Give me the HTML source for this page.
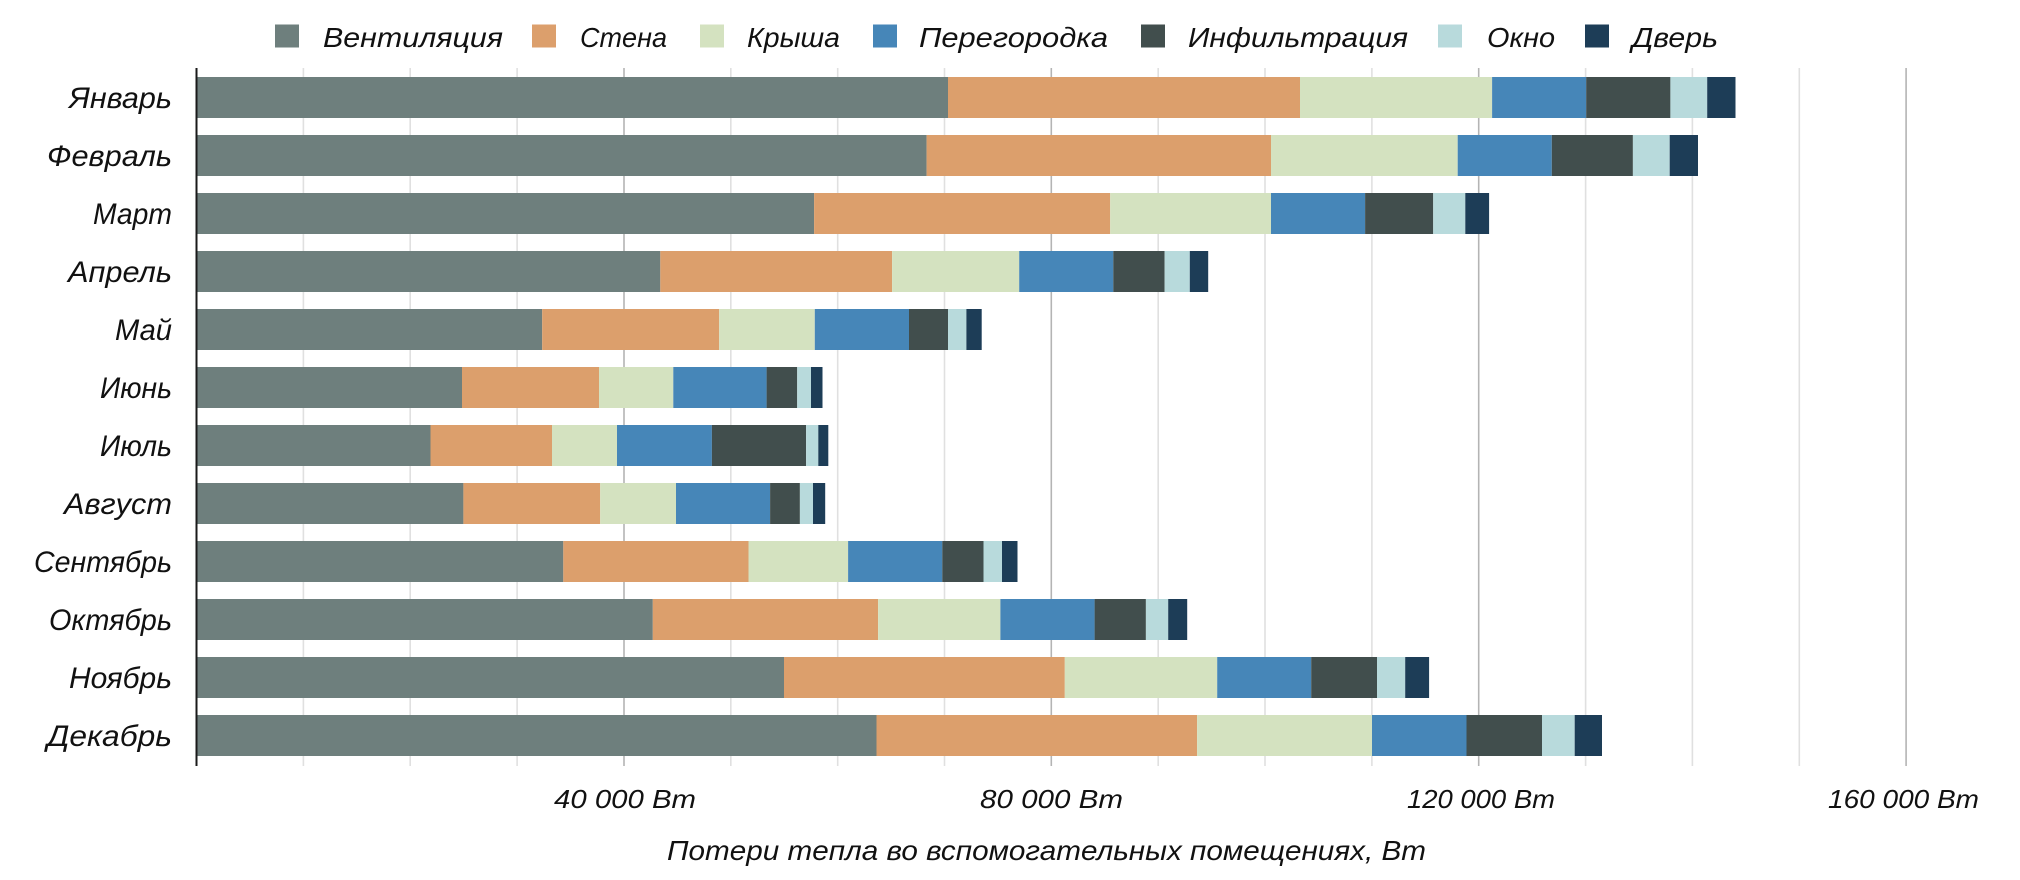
<!DOCTYPE html>
<html>
<head>
<meta charset="utf-8">
<style>
html,body{margin:0;padding:0;background:#fff;}
svg{display:block;}
text{font-family:"Liberation Sans","DejaVu Sans",sans-serif;font-style:italic;fill:#111;}
</style>
</head>
<body>
<svg width="2020" height="880" viewBox="0 0 2020 880" xmlns="http://www.w3.org/2000/svg">
<rect width="2020" height="880" fill="#fff"/>

<!-- gridlines -->
<g stroke-width="1.6">
<line x1="303.4" y1="68" x2="303.4" y2="766" stroke="#e0e0e0"/>
<line x1="410.2" y1="68" x2="410.2" y2="766" stroke="#e0e0e0"/>
<line x1="517.1" y1="68" x2="517.1" y2="766" stroke="#e0e0e0"/>
<line x1="624.0" y1="68" x2="624.0" y2="766" stroke="#b4b4b4"/>
<line x1="730.8" y1="68" x2="730.8" y2="766" stroke="#e0e0e0"/>
<line x1="837.7" y1="68" x2="837.7" y2="766" stroke="#e0e0e0"/>
<line x1="944.5" y1="68" x2="944.5" y2="766" stroke="#e0e0e0"/>
<line x1="1051.3" y1="68" x2="1051.3" y2="766" stroke="#b4b4b4"/>
<line x1="1158.2" y1="68" x2="1158.2" y2="766" stroke="#e0e0e0"/>
<line x1="1265.0" y1="68" x2="1265.0" y2="766" stroke="#e0e0e0"/>
<line x1="1371.9" y1="68" x2="1371.9" y2="766" stroke="#e0e0e0"/>
<line x1="1478.7" y1="68" x2="1478.7" y2="766" stroke="#b4b4b4"/>
<line x1="1585.6" y1="68" x2="1585.6" y2="766" stroke="#e0e0e0"/>
<line x1="1692.4" y1="68" x2="1692.4" y2="766" stroke="#e0e0e0"/>
<line x1="1799.3" y1="68" x2="1799.3" y2="766" stroke="#e0e0e0"/>
<line x1="1906.1" y1="68" x2="1906.1" y2="766" stroke="#b4b4b4"/>
</g>

<!-- bars -->
<g>
<!-- Январь -->
<rect x="196.5" y="77" width="751.5" height="41" fill="#6e7f7d"/>
<rect x="948" y="77" width="352" height="41" fill="#dc9f6c"/>
<rect x="1300" y="77" width="192.1" height="41" fill="#d4e2c0"/>
<rect x="1492.1" y="77" width="94.1" height="41" fill="#4686b8"/>
<rect x="1586.2" y="77" width="84.2" height="41" fill="#414e4d"/>
<rect x="1670.4" y="77" width="36.8" height="41" fill="#b8dadc"/>
<rect x="1707.2" y="77" width="28.3" height="41" fill="#1d3d57"/>
<!-- Февраль -->
<rect x="196.5" y="135" width="730.1" height="41" fill="#6e7f7d"/>
<rect x="926.6" y="135" width="344.4" height="41" fill="#dc9f6c"/>
<rect x="1271" y="135" width="186.7" height="41" fill="#d4e2c0"/>
<rect x="1457.7" y="135" width="94.1" height="41" fill="#4686b8"/>
<rect x="1551.8" y="135" width="81.1" height="41" fill="#414e4d"/>
<rect x="1632.9" y="135" width="36.8" height="41" fill="#b8dadc"/>
<rect x="1669.7" y="135" width="28.3" height="41" fill="#1d3d57"/>
<!-- Март -->
<rect x="196.5" y="193" width="617.6" height="41" fill="#6e7f7d"/>
<rect x="814.1" y="193" width="296.1" height="41" fill="#dc9f6c"/>
<rect x="1110.2" y="193" width="160.8" height="41" fill="#d4e2c0"/>
<rect x="1271" y="193" width="94.1" height="41" fill="#4686b8"/>
<rect x="1365.1" y="193" width="68.1" height="41" fill="#414e4d"/>
<rect x="1433.2" y="193" width="32.1" height="41" fill="#b8dadc"/>
<rect x="1465.3" y="193" width="23.8" height="41" fill="#1d3d57"/>
<!-- Апрель -->
<rect x="196.5" y="251" width="463.8" height="41" fill="#6e7f7d"/>
<rect x="660.3" y="251" width="231.8" height="41" fill="#dc9f6c"/>
<rect x="892.1" y="251" width="127.1" height="41" fill="#d4e2c0"/>
<rect x="1019.2" y="251" width="94.1" height="41" fill="#4686b8"/>
<rect x="1113.3" y="251" width="51.3" height="41" fill="#414e4d"/>
<rect x="1164.6" y="251" width="25.2" height="41" fill="#b8dadc"/>
<rect x="1189.8" y="251" width="18.4" height="41" fill="#1d3d57"/>
<!-- Май -->
<rect x="196.5" y="309" width="345.7" height="41" fill="#6e7f7d"/>
<rect x="542.2" y="309" width="177" height="41" fill="#dc9f6c"/>
<rect x="719.2" y="309" width="95.6" height="41" fill="#d4e2c0"/>
<rect x="814.8" y="309" width="94.2" height="41" fill="#4686b8"/>
<rect x="909" y="309" width="39" height="41" fill="#414e4d"/>
<rect x="948" y="309" width="18.4" height="41" fill="#b8dadc"/>
<rect x="966.4" y="309" width="15.3" height="41" fill="#1d3d57"/>
<!-- Июнь -->
<rect x="196.5" y="367" width="265.5" height="41" fill="#6e7f7d"/>
<rect x="462" y="367" width="137" height="41" fill="#dc9f6c"/>
<rect x="599" y="367" width="74.3" height="41" fill="#d4e2c0"/>
<rect x="673.3" y="367" width="93.3" height="41" fill="#4686b8"/>
<rect x="766.6" y="367" width="30.6" height="41" fill="#414e4d"/>
<rect x="797.2" y="367" width="13.8" height="41" fill="#b8dadc"/>
<rect x="811" y="367" width="11.5" height="41" fill="#1d3d57"/>
<!-- Июль -->
<rect x="196.5" y="425" width="234" height="41" fill="#6e7f7d"/>
<rect x="430.5" y="425" width="121.5" height="41" fill="#dc9f6c"/>
<rect x="552" y="425" width="65" height="41" fill="#d4e2c0"/>
<rect x="617" y="425" width="94.9" height="41" fill="#4686b8"/>
<rect x="711.9" y="425" width="94.2" height="41" fill="#414e4d"/>
<rect x="806.1" y="425" width="12.2" height="41" fill="#b8dadc"/>
<rect x="818.3" y="425" width="10" height="41" fill="#1d3d57"/>
<!-- Август -->
<rect x="196.5" y="483" width="266.9" height="41" fill="#6e7f7d"/>
<rect x="463.4" y="483" width="136.8" height="41" fill="#dc9f6c"/>
<rect x="600.2" y="483" width="75.8" height="41" fill="#d4e2c0"/>
<rect x="676" y="483" width="94.1" height="41" fill="#4686b8"/>
<rect x="770.1" y="483" width="29.8" height="41" fill="#414e4d"/>
<rect x="799.9" y="483" width="13.1" height="41" fill="#b8dadc"/>
<rect x="813" y="483" width="12.2" height="41" fill="#1d3d57"/>
<!-- Сентябрь -->
<rect x="196.5" y="541" width="366.8" height="41" fill="#6e7f7d"/>
<rect x="563.3" y="541" width="185.2" height="41" fill="#dc9f6c"/>
<rect x="748.5" y="541" width="99.6" height="41" fill="#d4e2c0"/>
<rect x="848.1" y="541" width="94.2" height="41" fill="#4686b8"/>
<rect x="942.3" y="541" width="41.2" height="41" fill="#414e4d"/>
<rect x="983.5" y="541" width="18.5" height="41" fill="#b8dadc"/>
<rect x="1002" y="541" width="15.5" height="41" fill="#1d3d57"/>
<!-- Октябрь -->
<rect x="196.5" y="599" width="456.3" height="41" fill="#6e7f7d"/>
<rect x="652.8" y="599" width="225.3" height="41" fill="#dc9f6c"/>
<rect x="878.1" y="599" width="122.3" height="41" fill="#d4e2c0"/>
<rect x="1000.4" y="599" width="94.2" height="41" fill="#4686b8"/>
<rect x="1094.6" y="599" width="51.3" height="41" fill="#414e4d"/>
<rect x="1145.9" y="599" width="22.3" height="41" fill="#b8dadc"/>
<rect x="1168.2" y="599" width="19" height="41" fill="#1d3d57"/>
<!-- Ноябрь -->
<rect x="196.5" y="657" width="587.5" height="41" fill="#6e7f7d"/>
<rect x="784" y="657" width="280.8" height="41" fill="#dc9f6c"/>
<rect x="1064.8" y="657" width="152.4" height="41" fill="#d4e2c0"/>
<rect x="1217.2" y="657" width="94" height="41" fill="#4686b8"/>
<rect x="1311.2" y="657" width="65.8" height="41" fill="#414e4d"/>
<rect x="1377" y="657" width="28.2" height="41" fill="#b8dadc"/>
<rect x="1405.2" y="657" width="23.9" height="41" fill="#1d3d57"/>
<!-- Декабрь -->
<rect x="196.5" y="715" width="680" height="41" fill="#6e7f7d"/>
<rect x="876.5" y="715" width="320.6" height="41" fill="#dc9f6c"/>
<rect x="1197.1" y="715" width="174.9" height="41" fill="#d4e2c0"/>
<rect x="1372" y="715" width="94.5" height="41" fill="#4686b8"/>
<rect x="1466.5" y="715" width="75.5" height="41" fill="#414e4d"/>
<rect x="1542" y="715" width="32.7" height="41" fill="#b8dadc"/>
<rect x="1574.7" y="715" width="27.3" height="41" fill="#1d3d57"/>
</g>

<!-- y axis -->
<line x1="196.5" y1="68" x2="196.5" y2="766" stroke="#1a1a1a" stroke-width="2"/>

<!-- month labels -->
<g font-size="30" text-anchor="end">
<text x="172" y="108" textLength="103" lengthAdjust="spacingAndGlyphs">Январь</text>
<text x="172" y="166" textLength="125" lengthAdjust="spacingAndGlyphs">Февраль</text>
<text x="172" y="224" textLength="79" lengthAdjust="spacingAndGlyphs">Март</text>
<text x="172" y="282" textLength="104" lengthAdjust="spacingAndGlyphs">Апрель</text>
<text x="172" y="340" textLength="57" lengthAdjust="spacingAndGlyphs">Май</text>
<text x="172" y="398" textLength="72" lengthAdjust="spacingAndGlyphs">Июнь</text>
<text x="172" y="456" textLength="72" lengthAdjust="spacingAndGlyphs">Июль</text>
<text x="172" y="514" textLength="108" lengthAdjust="spacingAndGlyphs">Август</text>
<text x="172" y="572" textLength="138" lengthAdjust="spacingAndGlyphs">Сентябрь</text>
<text x="172" y="630" textLength="123" lengthAdjust="spacingAndGlyphs">Октябрь</text>
<text x="172" y="688" textLength="103" lengthAdjust="spacingAndGlyphs">Ноябрь</text>
<text x="172" y="746" textLength="125" lengthAdjust="spacingAndGlyphs">Декабрь</text>
</g>

<!-- x tick labels -->
<g font-size="26">
<text x="554" y="808" textLength="142" lengthAdjust="spacingAndGlyphs">40 000 Вт</text>
<text x="980" y="808" textLength="143" lengthAdjust="spacingAndGlyphs">80 000 Вт</text>
<text x="1407" y="808" textLength="148" lengthAdjust="spacingAndGlyphs">120 000 Вт</text>
<text x="1828" y="808" textLength="151" lengthAdjust="spacingAndGlyphs">160 000 Вт</text>
</g>

<!-- axis title -->
<text x="667" y="860" font-size="28" textLength="759" lengthAdjust="spacingAndGlyphs">Потери тепла во вспомогательных помещениях, Вт</text>

<!-- legend -->
<g>
<rect x="275" y="24.5" width="24" height="23" fill="#6e7f7d"/>
<rect x="532" y="24.5" width="24" height="23" fill="#dc9f6c"/>
<rect x="700" y="24.5" width="24" height="23" fill="#d4e2c0"/>
<rect x="873" y="24.5" width="24" height="23" fill="#4686b8"/>
<rect x="1141" y="24.5" width="24" height="23" fill="#414e4d"/>
<rect x="1438" y="24.5" width="24" height="23" fill="#b8dadc"/>
<rect x="1585" y="24.5" width="24" height="23" fill="#1d3d57"/>
</g>
<g font-size="28">
<text x="323" y="47" textLength="180" lengthAdjust="spacingAndGlyphs">Вентиляция</text>
<text x="580" y="47" textLength="87" lengthAdjust="spacingAndGlyphs">Стена</text>
<text x="747" y="47" textLength="93" lengthAdjust="spacingAndGlyphs">Крыша</text>
<text x="919" y="47" textLength="189" lengthAdjust="spacingAndGlyphs">Перегородка</text>
<text x="1188" y="47" textLength="220" lengthAdjust="spacingAndGlyphs">Инфильтрация</text>
<text x="1487" y="47" textLength="68" lengthAdjust="spacingAndGlyphs">Окно</text>
<text x="1632" y="47" textLength="86" lengthAdjust="spacingAndGlyphs">Дверь</text>
</g>
</svg>
</body>
</html>
